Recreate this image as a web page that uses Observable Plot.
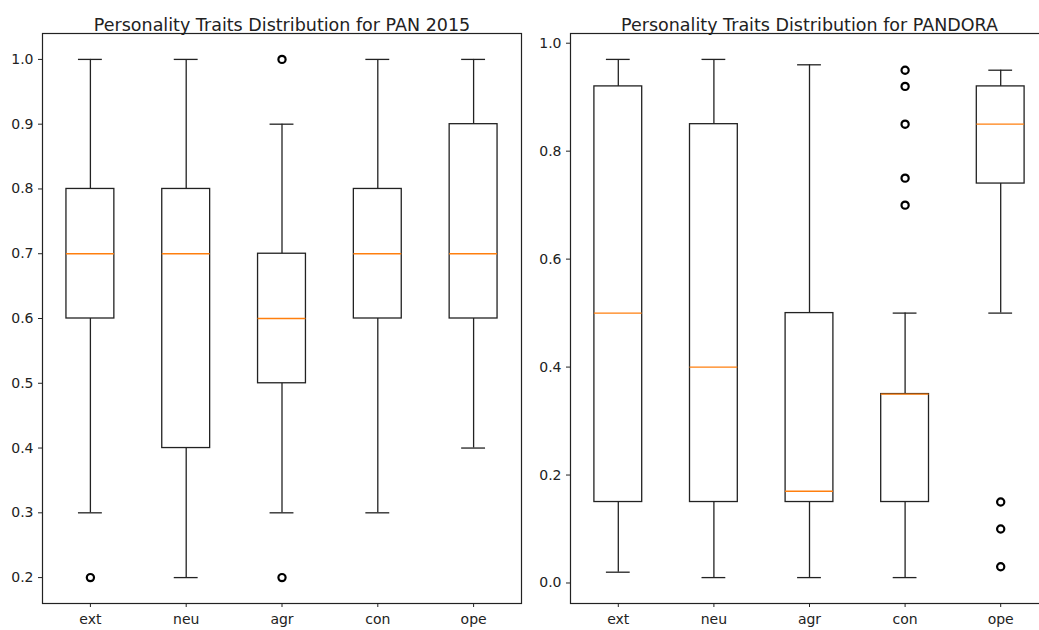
<!DOCTYPE html>
<html><head><meta charset="utf-8">
<script src="https://cdn.jsdelivr.net/npm/d3@7"></script>
<script src="https://cdn.jsdelivr.net/npm/@observablehq/plot@0.6"></script>
<style>
body{margin:0;background:#fff;}
#wrap{position:relative;width:1039px;height:630px;overflow:hidden;background:#fff;}
#wrap svg{position:absolute;top:0;}
</style></head><body><div id="wrap"></div>
<script>
const traits = ["ext","neu","agr","con","ope"];

// PAN 2015
const panTitle = "Personality Traits Distribution for PAN 2015";
const panLow  = [0.3, 0.2, 0.3, 0.3, 0.4];
const panQ1   = [0.6, 0.4, 0.5, 0.6, 0.6];
const panMed  = [0.7, 0.7, 0.6, 0.7, 0.7];
const panQ3   = [0.8, 0.8, 0.7, 0.8, 0.9];
const panHigh = [1.0, 1.0, 0.9, 1.0, 1.0];
const panOutTrait = ["ext", "agr", "agr"];
const panOutValue = [0.2, 1.0, 0.2];
const panTicks = [0.2, 0.3, 0.4, 0.5, 0.6, 0.7, 0.8, 0.9, 1.0];

// PANDORA
const pandoraTitle = "Personality Traits Distribution for PANDORA";
const pandoraLow  = [0.02, 0.01, 0.01, 0.01, 0.50];
const pandoraQ1   = [0.15, 0.15, 0.15, 0.15, 0.74];
const pandoraMed  = [0.50, 0.40, 0.17, 0.35, 0.85];
const pandoraQ3   = [0.92, 0.85, 0.50, 0.35, 0.92];
const pandoraHigh = [0.97, 0.97, 0.96, 0.50, 0.95];
const pandoraOutTrait = ["con", "con", "con", "con", "con", "ope", "ope", "ope"];
const pandoraOutValue = [0.95, 0.92, 0.85, 0.75, 0.70, 0.15, 0.10, 0.03];
const pandoraTicks = [0.0, 0.2, 0.4, 0.6, 0.8, 1.0];

const INK = "#222";
const MED = "#ff7f0e";

function panel({title, low, q1, med, q3, high, outT, outV, ticks, left, marginLeft, marginRight}) {
  const rows = traits.map((t, i) => ({trait: t, low: low[i], q1: q1[i], med: med[i], q3: q3[i], high: high[i]}));
  const outs = outT.map((t, i) => ({trait: t, v: outV[i]}));
  const all = [...low, ...high, ...outV];
  const lo = d3.min(all), hi = d3.max(all), pad = (hi - lo) * 0.05;
  const svg = Plot.plot({
    width: 540, height: 630,
    marginTop: 33, marginBottom: 27, marginLeft, marginRight,
    style: {fontFamily: "DejaVu Sans", fontSize: "14px", color: INK, background: "transparent"},
    x: {type: "band", domain: traits, paddingInner: 0.5, paddingOuter: 0.25, round: false},
    y: {domain: [lo - pad, hi + pad]},
    marks: [
      Plot.ruleX(rows, {x: "trait", y1: "low", y2: "q1", stroke: INK, strokeWidth: 1.3}),
      Plot.ruleX(rows, {x: "trait", y1: "q3", y2: "high", stroke: INK, strokeWidth: 1.3}),
      Plot.barY(rows, {x: "trait", y1: "q1", y2: "q3", fill: "white", stroke: INK, strokeWidth: 1.3}),
      Plot.tickY(rows, {x: "trait", y: "low", stroke: INK, strokeWidth: 1.3, insetLeft: 12, insetRight: 12}),
      Plot.tickY(rows, {x: "trait", y: "high", stroke: INK, strokeWidth: 1.3, insetLeft: 12, insetRight: 12}),
      Plot.tickY(rows, {x: "trait", y: "med", stroke: MED, strokeWidth: 1.3}),
      Plot.dot(outs, {x: "trait", y: "v", r: 3.6, stroke: "#000", strokeWidth: 2.2, fill: "none"}),
      Plot.frame({stroke: INK, strokeWidth: 1.2}),
      Plot.axisX({tickSize: 4, tickPadding: 7, label: null, fontSize: 14}),
      Plot.axisY({ticks, tickFormat: d3.format(".1f"), tickSize: 4, tickPadding: 5, label: null, fontSize: 14}),
      Plot.text([title], {frameAnchor: "top", dy: -15, fontSize: 17.5, fill: INK})
    ]
  });
  svg.style.left = left + "px";
  return svg;
}

const wrap = document.getElementById("wrap");
wrap.appendChild(panel({title: panTitle, low: panLow, q1: panQ1, med: panMed, q3: panQ3, high: panHigh,
  outT: panOutTrait, outV: panOutValue, ticks: panTicks, left: 0, marginLeft: 42, marginRight: 19}));
wrap.appendChild(panel({title: pandoraTitle, low: pandoraLow, q1: pandoraQ1, med: pandoraMed, q3: pandoraQ3, high: pandoraHigh,
  outT: pandoraOutTrait, outV: pandoraOutValue, ticks: pandoraTicks, left: 520, marginLeft: 50, marginRight: 12}));
</script>
</body></html>
